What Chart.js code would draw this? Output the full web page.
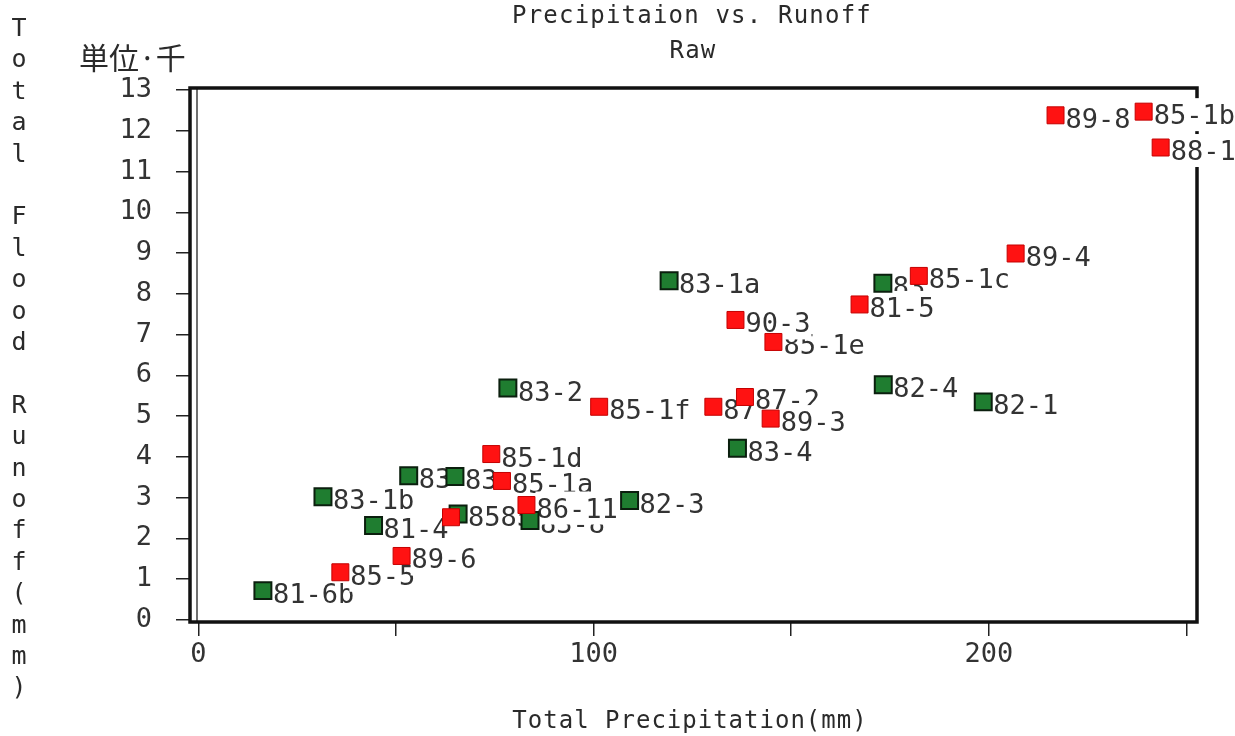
<!DOCTYPE html>
<html>
<head>
<meta charset="utf-8">
<script src="https://cdn.jsdelivr.net/npm/chart.js@4.4.0/dist/chart.umd.min.js"></script>
<style>
  html, body { margin: 0; background: #fff; }
  #wrap { width: 1235px; height: 736px; position: relative; }
</style>
</head>
<body>
<div id="wrap"><canvas id="runoffChart"></canvas></div>
<script>
// red series (drawn on top)
const redLabels = ["85-5", "89-6", "", "85-1d", "85-1a", "86-11", "85-1f", "87", "87-2", "89-3", "85-1e", "90-3", "81-5", "85-1c", "89-4", "89-8", "85-1b", "88-1"];
const redPrecip = [35.9, 51.4, 63.9, 74.1, 76.8, 83.0, 101.4, 130.3, 138.3, 144.8, 145.5, 135.9, 167.3, 182.3, 206.8, 216.9, 239.2, 243.5];
const redRunoff = [1.17, 1.57, 2.52, 4.07, 3.41, 2.82, 5.23, 5.23, 5.47, 4.94, 6.82, 7.36, 7.74, 8.44, 8.99, 12.38, 12.47, 11.59];

// green series
const greenLabels = ["81-6b", "83-1b", "81-4", "83", "83", "8585", "83-8", "82-3", "83-2", "83-1a", "83-4", "82-4", "83", "82-1"];
const greenPrecip = [16.3, 31.5, 44.3, 53.2, 64.9, 65.7, 83.9, 109.1, 78.3, 119.1, 136.4, 173.3, 173.2, 198.6];
const greenRunoff = [0.72, 3.02, 2.32, 3.54, 3.52, 2.6, 2.44, 2.93, 5.69, 8.32, 4.21, 5.77, 8.26, 5.35];

// axes
const yTicks = [0, 1, 2, 3, 4, 5, 6, 7, 8, 9, 10, 11, 12, 13];
const xTicks = [0, 50, 100, 150, 200, 250];
const xTickLabels = [0, 100, 200];

const mono = "DejaVu Sans Mono";
const labelOrder = [1, 0]; // green labels first, then red

const toPoints = (xs, ys) => xs.map((x, i) => ({ x: x, y: ys[i] }));

// frame, titles and point labels (labels go under the markers)
const decorPlugin = {
  id: "decor",
  beforeDatasetsDraw(chart) {
    const ctx = chart.ctx;
    const ca = chart.chartArea;
    ctx.save();
    ctx.strokeStyle = "#111";
    ctx.lineWidth = 3.5;
    ctx.strokeRect(ca.left, ca.top, ca.right - ca.left, ca.bottom - ca.top);
    ctx.lineWidth = 1.2;
    ctx.beginPath();
    ctx.moveTo(ca.left + 7, ca.top);
    ctx.lineTo(ca.left + 7, ca.bottom);
    ctx.stroke();

    ctx.font = "27px '" + mono + "'";
    ctx.textAlign = "left";
    ctx.textBaseline = "alphabetic";
    labelOrder.forEach((di) => {
      const meta = chart.getDatasetMeta(di);
      const labels = chart.data.datasets[di].pointLabels;
      meta.data.forEach((el, j) => {
        const txt = labels[j];
        if (!txt) return;
        const x = el.x + 10;
        const base = el.y + 12.5;
        const w = ctx.measureText(txt).width;
        ctx.fillStyle = "#fff";
        ctx.fillRect(x - 1, base - 26, w + 2, 33);
        ctx.fillStyle = "#333";
        ctx.fillText(txt, x, base);
      });
    });
    ctx.restore();
  },
  afterDraw(chart) {
    const ctx = chart.ctx;
    ctx.save();
    ctx.fillStyle = "#2a2a2a";
    ctx.textAlign = "center";
    ctx.textBaseline = "alphabetic";
    ctx.letterSpacing = "1.2px";
    ctx.font = "24px '" + mono + "'";
    ctx.fillText("Precipitaion vs. Runoff", 692, 23);
    ctx.fillText("Raw", 693, 58);

    ctx.letterSpacing = "1px";
    ctx.font = "24px '" + mono + "'";
    ctx.fillText("Total Precipitation(mm)", 690, 728);

    ctx.letterSpacing = "0px";
    ctx.font = "25px '" + mono + "'";
    const yTitle = "Total Flood Runoff(mm)";
    for (let i = 0; i < yTitle.length; i++) {
      if (yTitle[i] !== " ") ctx.fillText(yTitle[i], 19, 36 + i * 31.4);
    }

    ctx.textAlign = "left";
    ctx.font = "30px 'Noto Sans CJK JP'";
    ctx.fillText("単位·千", 79, 69);
    ctx.restore();
  },
};

const tickFont = { family: mono, size: 27 };

new Chart(document.getElementById("runoffChart").getContext("2d"), {
  type: "scatter",
  data: {
    datasets: [
      {
        label: "red",
        data: toPoints(redPrecip, redRunoff),
        pointLabels: redLabels,
        pointStyle: "rect",
        pointRadius: 12,
        backgroundColor: "#ff1212",
        borderColor: "#c40000",
        borderWidth: 1,
      },
      {
        label: "green",
        data: toPoints(greenPrecip, greenRunoff),
        pointLabels: greenLabels,
        pointStyle: "rect",
        pointRadius: 12,
        backgroundColor: "#1f7d30",
        borderColor: "#0b1f0e",
        borderWidth: 2,
      },
    ],
  },
  options: {
    responsive: true,
    maintainAspectRatio: false,
    animation: false,
    layout: { padding: { top: 88, right: 38, left: 0, bottom: 0 } },
    plugins: {
      legend: { display: false },
      tooltip: { enabled: false },
    },
    scales: {
      x: {
        type: "linear",
        min: -2.15,
        max: 252.7,
        afterBuildTicks: (s) => {
          s.ticks = xTicks.map((v) => ({ value: v }));
        },
        afterFit: (s) => {
          s.height = 114;
        },
        ticks: {
          autoSkip: false,
          maxRotation: 0,
          padding: 3,
          color: "#333",
          font: tickFont,
          callback: (v) => (xTickLabels.includes(v) ? String(v) : ""),
        },
        grid: {
          drawOnChartArea: false,
          tickLength: 14,
          color: "#222",
          lineWidth: 1.5,
        },
        border: { display: false },
      },
      y: {
        type: "linear",
        min: -0.05,
        max: 13.05,
        afterBuildTicks: (s) => {
          s.ticks = yTicks.map((v) => ({ value: v }));
        },
        afterFit: (s) => {
          s.width = 190;
        },
        ticks: {
          padding: 24,
          color: "#333",
          font: tickFont,
        },
        grid: {
          drawOnChartArea: false,
          tickLength: 14,
          color: "#222",
          lineWidth: 1.5,
        },
        border: { display: false },
      },
    },
  },
  plugins: [decorPlugin],
});
</script>
</body>
</html>
